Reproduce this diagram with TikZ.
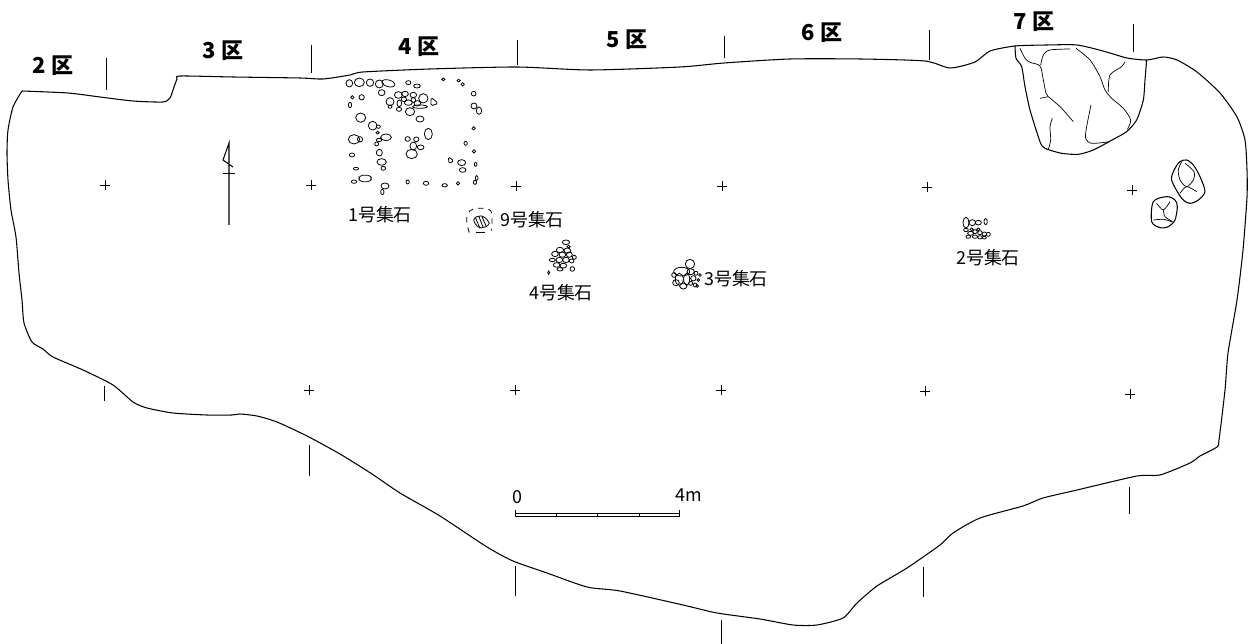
\documentclass[tikz,border=0pt]{standalone}
\usepackage{fontspec}
\setmainfont{Noto Sans CJK JP}
\tikzset{
  plan/.style={line width=0.6pt},
  stone/.style={line width=0.45pt},
  crack/.style={line width=0.4pt},
  ku/.style={font=\fontsize{12.5}{13}\selectfont\bfseries},
  shuseki/.style={font=\fontsize{10.2}{11}\selectfont}
}
\newcommand{\stones}[1]{\foreach \x/\y/\a/\b in {#1} {\draw[stone] (\x,\y) ellipse ({\a} and {\b});}}
\begin{document}
\begin{tikzpicture}[x=0.02cm,y=-0.02cm]
\useasboundingbox (0,0) rectangle (1250,644);
% outline of the site
\draw[plan] plot[smooth,tension=0.4] coordinates {(22,91) (68,93) (100,97) (133,101) (163,102) (170,98) (173,90) (177,79) (180,76) (233,77) (300,78) (323,79) (350,75) (363,72) (430,69) (517,67) (590,70) (680,67) (724,63) (790,59) (860,59) (925,61) (950,68) (975,62) (990,51) (1015,46) (1047,45) (1077,45) (1103,51) (1127,58) (1147,60) (1163,57) (1177,60) (1197,72) (1220,93) (1237,117) (1245,140) (1247,170) (1247,197) (1243,250) (1237,300) (1228,353) (1225,390) (1219,440) (1217,447) (1200,456) (1190,463) (1160,475) (1137,476) (1077,490) (1043,498) (1023,506) (980,518) (953,533) (940,545) (907,568) (877,586) (857,603) (843,618) (817,625) (793,625) (760,619) (717,613) (683,605) (620,591) (587,587) (547,573) (513,561) (487,547) (440,516) (400,493) (372,474) (340,454) (307,436) (277,422) (257,416) (240,414) (232,415) (207,415) (173,413) (147,408) (133,402) (113,385) (83,370) (53,357) (43,349) (32,342) (24,323) (22,300) (19,273) (16,237) (11,210) (8,180) (7,153) (8,130) (13,107) (22,91)};
% section lines
\foreach \x/\a/\b in {106/58/90,311/45/73,517/40/65,724/36/58,929/30/60,1133/24/52,104/386/401,309/445/476,515/566/596,721/620/644,923/567/597,1129/487/514}
  \draw[stone] (\x,\a) -- (\x,\b);
% grid
\foreach \x/\y in {105/185,311/185,516/186,722/186,927/187,1132/190,309/390,515/390,721/390,925/391,1130/394} {
  \draw[stone] (\x-5,\y) -- (\x+5,\y);
  \draw[stone] (\x,\y-5) -- (\x,\y+5);
}
% north
\draw[plan] (229,225) -- (229,143) -- (223,160) -- (233,167);
\draw[stone] (223,173) -- (235,173);
% ku
\node[ku] (ku2) at (53,66) {2 区};
\node[ku] (ku3) at (223,51) {3 区};
\node[ku] (ku4) at (419,47) {4 区};
\node[ku] (ku5) at (627,40) {5 区};
\node[ku] (ku6) at (822,33) {6 区};
\node[ku] (ku7) at (1034,22) {7 区};
% labels
\node[shuseki] (s1) at (380,215) {1号集石};
\node[shuseki] (s9) at (532,220) {9号集石};
\node[shuseki] (s4) at (561,293) {4号集石};
\node[shuseki] (s3) at (736,279) {3号集石};
\node[shuseki] (s2) at (988,258) {2号集石};
% 1 and 9 and 4
\begin{scope}[shift={(330,60)},scale=0.3333]
\stones{58/70/10/11,88/67/15/13,120/68/11/11,148/72/12/12,155/98/10/9,235/68/8/6,261/78/10/6,340/58/5/4,386/62/5/4,398/73/5/5,431/101/7/7,432/138/9/9,447/152/8/11,67/112/5/5,95/112/8/8,60/135/5/8,92/173/15/14,128/197/13/13,145/200/6/5,143/218/5/4,270/177/12/9,295/222/12/17,431/205/5/5,72/238/17/14,90/238/8/8,168/232/16/10,147/240/8/5,140/252/6/6,148/278/9/10,233/237/8/7,259/238/8/7,245/282/17/14,272/262/10/7,250/258/10/12,407/250/5/6,432/274/5/5,66/285/8/6,155/306/14/10,160/325/7/6,78/326/8/4,395/308/12/9,398/330/10/7,437/313/4/6,72/365/8/5,165/378/12/9,157/396/5/8,233/366/5/6,288/370/8/6,344/376/8/5,384/370/5/5,440/354/4/7,435/367/5/6}
\stones{180/125/12/12,205/105/12/10,225/102/10/8,250/105/10/8,280/115/14/14,208/130/7/10,235/128/12/8,262/130/10/8,207/148/8/6,240/155/14/12,270/140/22/5,180/140/6/5,250/120/7/7,222/118/8/7}
\draw[stone,rotate around={-15:(175,70)}] (175,70) ellipse (20 and 10);
\draw[stone,rounded corners=2pt] (87,346) rectangle (124,365);
\draw[stone,rounded corners=1pt] (303,112) -- (325,130) -- (303,138) -- cycle;
\draw[stone,rounded corners=1pt] (355,290) -- (372,303) -- (357,311) -- cycle;
% 9
\draw[stone,dashed] plot[smooth,tension=0.7] coordinates {(418,518) (410,480) (420,452) (450,445) (482,452) (486,480) (484,512)};
\draw[stone] (431,480) .. controls (440,462) and (465,462) .. (478,490) .. controls (468,508) and (440,512) .. (431,480);
\draw[stone] (436,472) -- (450,505);
\draw[stone] (446,468) -- (460,503);
\draw[stone] (456,470) -- (468,498);
\draw[stone] (438,518) -- (466,518);
% 4
\stones{708/547/11/7,716/560/5/4,690/570/11/8,712/572/10/8,675/582/10/8,697/584/10/8,718/584/9/8,733/592/6/6,667/600/9/5,688/600/10/8,708/600/10/8,725/603/7/6,680/615/10/7,700/617/10/7,690/628/9/5,727/627/7/7,656/638/3/5}
\end{scope}
% 2 and 3
\begin{scope}[shift={(650,200)},scale=0.3333]
\stones{120/192/14/14,95/215/24/13,122/215/11/9,88/238/12/18,110/238/9/18,78/248/10/9,72/225/7/7,100/258/11/9,130/235/8/8,138/220/6/6,135/255/5/6,145/240/4/4,150/225/4/4,142/258/4/4,122/250/6/6}
\stones{948/68/9/16,967/68/10/9,985/68/9/7,1007/65/5/9,948/90/7/5,962/100/9/6,975/95/7/6,990/98/7/6,1003/102/7/6,1015/103/6/6,955/110/7/5,975/110/8/5,990/112/7/5,1003/113/6/4,965/88/5/4,985/88/5/4}
\end{scope}
% stones on the right
\begin{scope}[shift={(990,30)},scale=0.3333]
\draw[plan] plot[smooth,tension=0.4] coordinates {(75,47) (78,85) (95,110) (105,170) (120,240) (150,335) (165,355) (215,370) (265,373) (310,360) (370,328) (410,305) (440,270) (460,210) (465,150) (470,90)};
\draw[crack] plot[smooth] coordinates {(90,55) (105,85) (120,97) (150,108) (160,150) (168,190) (175,200) (210,230) (250,275)};
\draw[crack] plot[smooth] coordinates {(150,205) (175,200)};
\draw[crack] plot[smooth] coordinates {(152,105) (160,75) (180,60) (240,57)};
\draw[crack] plot[smooth] coordinates {(258,55) (300,90) (330,140) (345,180) (365,205) (400,235) (422,270) (412,298)};
\draw[crack] plot[smooth] coordinates {(405,95) (395,110) (360,135) (355,185)};
\draw[crack] plot[smooth] coordinates {(187,265) (180,290) (182,330) (175,358)};
\draw[crack] plot[smooth] coordinates {(303,225) (290,290) (287,325) (305,340) (360,335)};
\draw[plan] plot[smooth cycle,tension=0.5] coordinates {(590,390) (610,405) (630,440) (645,485) (625,510) (600,520) (575,505) (545,450) (555,415) (570,395)};
\draw[crack] plot[smooth] coordinates {(575,395) (565,420) (570,450) (590,470) (610,450) (612,425) (585,400)};
\draw[crack] plot[smooth] coordinates {(570,490) (590,470) (620,485)};
\draw[plan] plot[smooth cycle,tension=0.5] coordinates {(530,500) (555,510) (562,530) (555,570) (535,590) (510,593) (485,575) (490,515)};
\draw[crack] plot[smooth] coordinates {(500,520) (520,540) (540,515)};
\draw[crack] plot[smooth] coordinates {(520,540) (525,560) (548,575)};
\draw[crack] plot[smooth] coordinates {(490,570) (520,568) (545,575)};
\end{scope}
% scale
\node[shuseki] (zero) at (517,497) {0};
\node[shuseki] (four) at (689,495) {4m};
\draw[stone] (515,510) -- (515,516) -- (679,516) -- (679,510);
\draw[stone] (515,513.5) -- (679,513.5);
\foreach \x in {556,597,639}
  \draw[stone] (\x,513.5) -- (\x,516);
\end{tikzpicture}
\end{document}
